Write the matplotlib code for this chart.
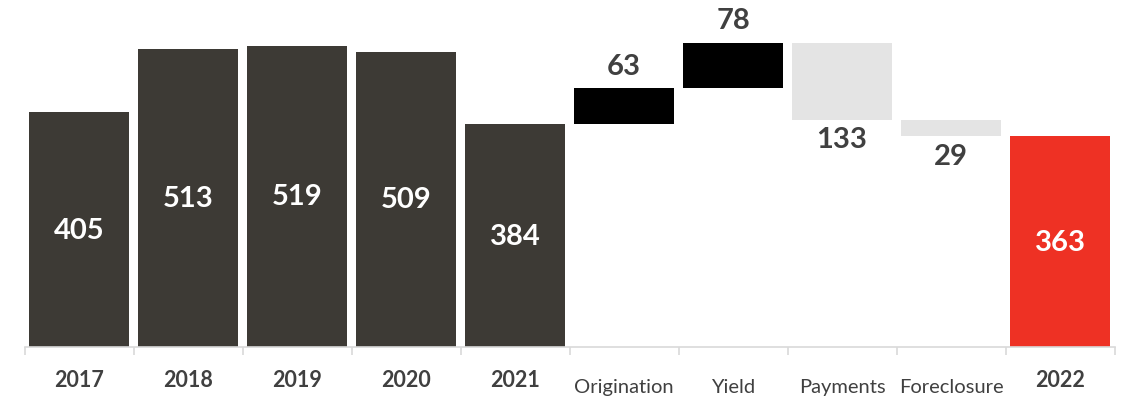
import matplotlib.pyplot as plt
import matplotlib.transforms as mtransforms
import numpy as np

categories = ['2017', '2018', '2019', '2020', '2021',
              'Origination', 'Yield', 'Payments', 'Foreclosure', '2022']
totals = [405, 513, 519, 509, 384]
changes = [63, 78, -133, -29]
final_total = 363

dark = '#3d3a35'
up_col = '#000000'
down_col = '#e4e4e4'
red = '#ee3124'
txt = '#404040'

# build waterfall bars
heights, bottoms, colors = [], [], []
for v in totals:
    heights.append(v); bottoms.append(0); colors.append(dark)
level = totals[-1]
for c in changes:
    if c >= 0:
        bottoms.append(level); heights.append(c); colors.append(up_col)
    else:
        bottoms.append(level + c); heights.append(-c); colors.append(down_col)
    level += c
heights.append(final_total); bottoms.append(0); colors.append(red)

fig = plt.figure(figsize=(11.24, 4.02), dpi=100)
ax = fig.add_axes([24.5 / 1124, 54 / 402, 1090 / 1124, 348 / 402])
x = np.arange(len(categories))
ax.bar(x, heights, bottom=bottoms, width=0.91, color=colors, linewidth=0)

ax.set_xlim(-0.5, len(categories) - 0.5)
ax.set_ylim(0, 600)
for s in ['top', 'right', 'left']:
    ax.spines[s].set_visible(False)
ax.spines['bottom'].set_color('#d9d9d9')
ax.spines['bottom'].set_linewidth(1.2)
ax.set_yticks([])
ax.set_xticks([])
ax.set_xticks(np.arange(-0.5, len(categories)), minor=True)
ax.tick_params(axis='x', which='minor', length=6, color='#d9d9d9', width=1.2,
               labelbottom=False)

font = 'Lato'
trans = mtransforms.blended_transform_factory(ax.transData, ax.transAxes)
for i, cat in enumerate(categories):
    if cat.isdigit():
        ax.text(i, -0.092, cat, transform=trans, ha='center', va='center',
                fontsize=15.5, fontweight='bold', color=txt, family=font)
    else:
        ax.text(i, -0.113, cat, transform=trans, ha='center', va='center',
                fontsize=14.5, color=txt, family=font)

# value labels
for i in range(len(categories)):
    b, h = bottoms[i], heights[i]
    if colors[i] in (dark, red):
        ax.text(i, b + h / 2, str(h), ha='center', va='center', fontsize=21,
                fontweight='bold', color='white', family=font)
    elif colors[i] == up_col:
        ax.annotate(str(h), (i, b + h), xytext=(0, 16), textcoords='offset points',
                    ha='center', va='center', fontsize=21, fontweight='bold',
                    color=txt, family=font)
    else:
        ax.annotate(str(h), (i, b), xytext=(0, -14), textcoords='offset points',
                    ha='center', va='center', fontsize=21, fontweight='bold',
                    color=txt, family=font)

fig.savefig('out.png', dpi=100)
